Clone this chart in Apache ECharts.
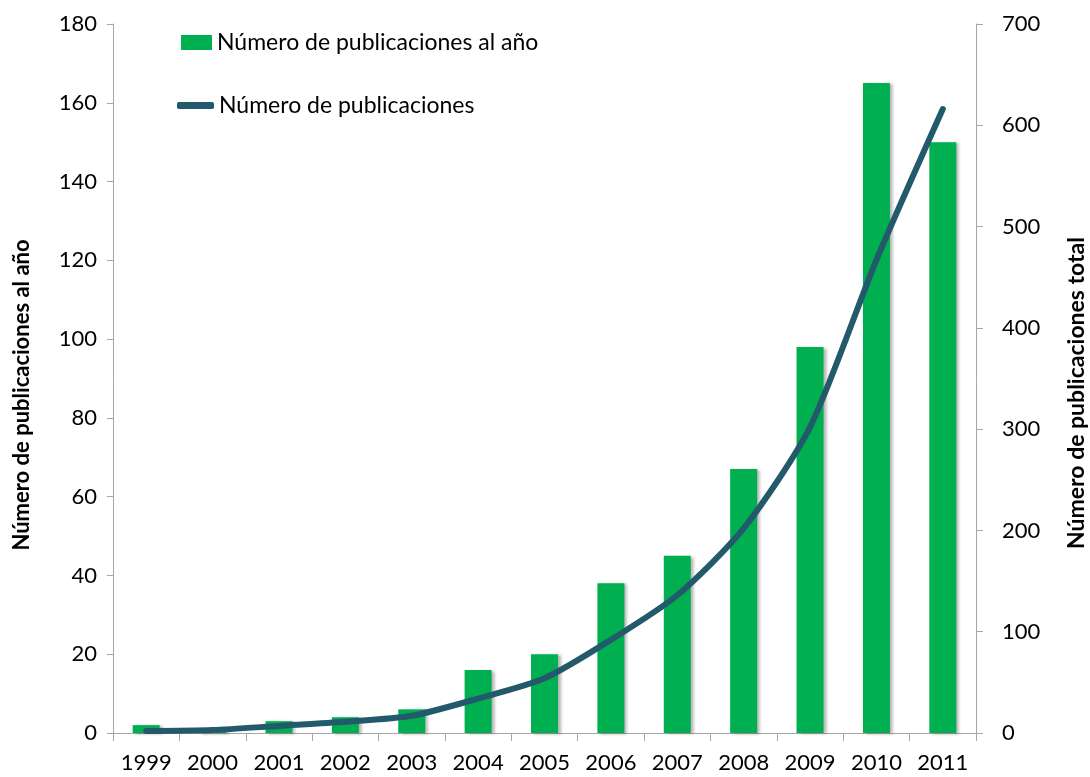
<!DOCTYPE html>
<html>
<head>
<meta charset="utf-8">
<script src="https://cdn.jsdelivr.net/npm/echarts@6/dist/echarts.min.js"></script>
<style>
html,body{margin:0;padding:0;background:#fff;}
#chart{width:1090px;height:777px;}
</style>
</head>
<body>
<div id="chart"></div>
<script>
const years = ['1999','2000','2001','2002','2003','2004','2005','2006','2007','2008','2009','2010','2011'];
const perYear = [2, 1, 3, 4, 6, 16, 20, 38, 45, 67, 98, 165, 150];
const total = [2, 3, 7, 11, 17, 34, 54, 92, 136, 202, 302, 467, 616];
const leftTicks = {min: 0, max: 180, interval: 20};
const rightTicks = {min: 0, max: 700, interval: 100};
const barName = 'Número de publicaciones al año';
const lineName = 'Número de publicaciones';
const leftTitle = 'Número de publicaciones al año';
const rightTitle = 'Número de publicaciones total';

const FONT = 'Lato';
const chart = echarts.init(document.getElementById('chart'));
const axisGray = '#a6a6a6';
chart.setOption({
  animation: false,
  backgroundColor: '#fff',
  textStyle: {fontFamily: FONT},
  grid: {left: 113, right: 114, top: 24, bottom: 44, containLabel: false},
  legend: [
    {data: [{name: barName, icon: 'rect'}], left: 176, top: 26, itemWidth: 31, itemHeight: 15, itemGap: 0,
     textStyle: {fontFamily: FONT, fontSize: 23, color: '#000'}},
    {data: [{name: lineName, icon: 'roundRect'}], left: 172, top: 89, itemWidth: 37, itemHeight: 7, itemGap: 0,
     textStyle: {fontFamily: FONT, fontSize: 23, color: '#000'}}
  ],
  xAxis: {
    type: 'category', data: years, boundaryGap: true,
    axisLine: {lineStyle: {color: axisGray, width: 1}},
    axisTick: {show: true, length: 8, alignWithLabel: false, lineStyle: {color: axisGray}},
    axisLabel: {color: '#000', fontSize: 22, fontFamily: FONT, margin: 19, interval: 0},
    splitLine: {show: false}
  },
  yAxis: [
    {type: 'value', min: leftTicks.min, max: leftTicks.max, interval: leftTicks.interval, position: 'left',
     axisLine: {show: true, lineStyle: {color: axisGray}},
     axisTick: {show: true, length: 6, lineStyle: {color: axisGray}},
     axisLabel: {color: '#000', fontSize: 22, fontFamily: FONT, margin: 16},
     splitLine: {show: false}},
    {type: 'value', min: rightTicks.min, max: rightTicks.max, interval: rightTicks.interval, position: 'right',
     axisLine: {show: true, lineStyle: {color: axisGray}},
     axisTick: {show: true, length: 7, lineStyle: {color: axisGray}},
     axisLabel: {color: '#000', fontSize: 22, fontFamily: FONT, margin: 26, align: 'left'},
     splitLine: {show: false}}
  ],
  graphic: [
    {type: 'text', rotation: Math.PI / 2,
     style: {text: leftTitle, font: 'bold 22px Lato', fill: '#000', align: 'center', verticalAlign: 'middle'},
     x: 22, y: 395},
    {type: 'text', rotation: Math.PI / 2,
     style: {text: rightTitle, font: 'bold 23px Lato', fill: '#000', align: 'center', verticalAlign: 'middle'},
     x: 1077, y: 393}
  ],
  series: [
    {name: barName, type: 'bar', yAxisIndex: 0, data: perYear, barWidth: 27,
     itemStyle: {color: '#00b050', shadowColor: 'rgba(0,0,0,0.3)', shadowBlur: 3, shadowOffsetX: 3, shadowOffsetY: 1}},
    {name: lineName, type: 'line', yAxisIndex: 1, data: total, smooth: 0.25, showSymbol: false, symbol: 'none',
     lineStyle: {color: '#235a6b', width: 6, cap: 'round', join: 'round'},
     itemStyle: {color: '#235a6b'}, z: 3}
  ]
});
</script>
</body>
</html>
